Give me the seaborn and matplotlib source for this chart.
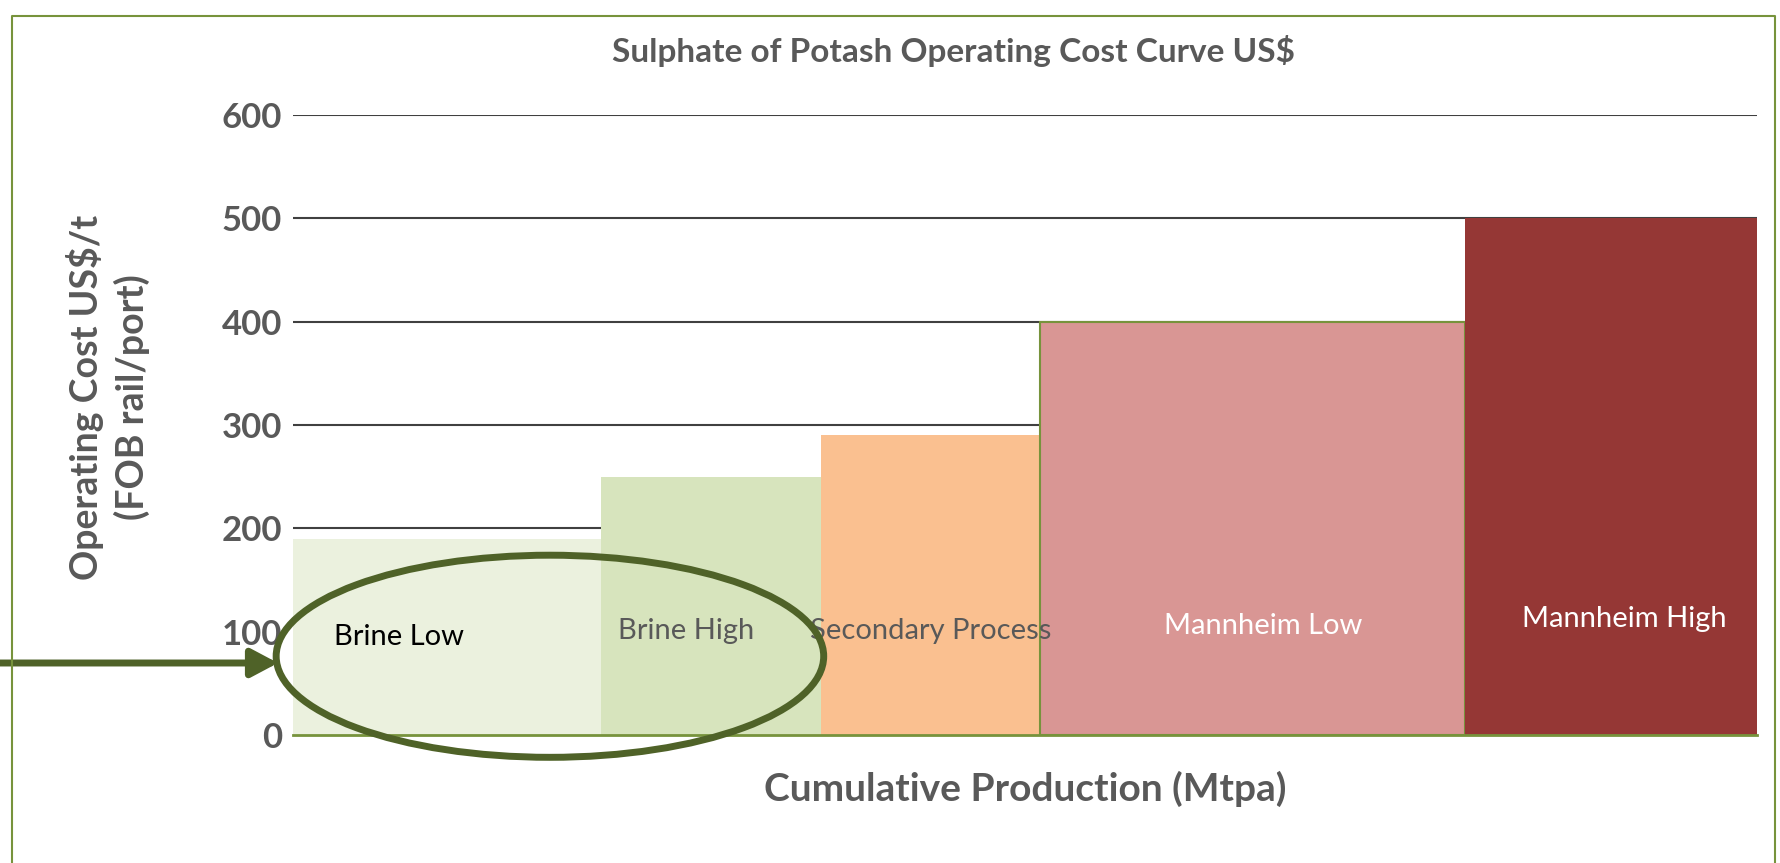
import numpy as np
import pandas as pd
import matplotlib.pyplot as plt
import seaborn as sns
from matplotlib.patches import Ellipse
from matplotlib.lines import Line2D

# Data
sources = ['Brine Low', 'Brine High', 'Secondary Process', 'Mannheim Low', 'Mannheim High']
production = [1.4, 1.0, 1.0, 1.93, 1.33]      # Mtpa, bar widths
op_cost = [190, 250, 290, 400, 500]            # US$/t
bar_colors = ['#EBF1DE', '#D7E4BD', '#FAC090', '#D99694', '#953735']
label_colors = ['#000000', '#595959', '#595959', '#FFFFFF', '#FFFFFF']
y_ticks = [0, 100, 200, 300, 400, 500, 600]

GREY = '#595959'
GREEN = '#77933C'
DARK_GREEN = '#4F6228'

edges = np.concatenate([[0], np.cumsum(production)])
mids = (edges[:-1] + edges[1:]) / 2
df = pd.DataFrame({'source': sources, 'cost': op_cost})

sns.set_theme(style='white')
plt.rcParams['font.family'] = ['Lato', 'DejaVu Sans']

fig = plt.figure(figsize=(17.81, 8.63), dpi=100)
ax = fig.add_axes([293 / 1781, 1 - 735 / 863, 1464 / 1781, 620 / 863])

sns.barplot(data=df, x='source', y='cost', hue='source', order=sources,
            hue_order=sources, palette=dict(zip(sources, bar_colors)),
            width=1, linewidth=0, saturation=1, legend=False, ax=ax, zorder=2)

# cost curve: stretch each bar to its cumulative production span
for i, cont in enumerate(ax.containers):
    for bar in cont:
        bar.set_x(edges[i])
        bar.set_width(production[i])
        if sources[i] == 'Mannheim Low':
            bar.set_edgecolor(GREEN)
            bar.set_linewidth(1.5)

ax.set_xlim(edges[0], edges[-1])
ax.set_ylim(0, 600)
ax.set_yticks(y_ticks)
ax.yaxis.grid(True, color='#404040', linewidth=1.5, zorder=0)
ax.set_axisbelow(True)
ax.set_xticks([])
ax.tick_params(axis='y', length=0, pad=8, labelsize=25, labelcolor=GREY)
for t in ax.get_yticklabels():
    t.set_fontweight('bold')
for s in ['left', 'right', 'top']:
    ax.spines[s].set_visible(False)
ax.spines['bottom'].set_color(GREEN)
ax.spines['bottom'].set_linewidth(2)
ax.spines['bottom'].set_zorder(3)

ax.set_xlabel('Cumulative Production (Mtpa)', fontsize=28, fontweight='bold',
              color=GREY, labelpad=26)
ax.set_ylabel('')
fig.text(108 / 1781, 1 - 397 / 863, 'Operating Cost US$/t\n(FOB rail/port)',
         rotation=90, ha='center', va='center', fontsize=27, fontweight='bold',
         color=GREY, linespacing=1.35)

label_dx = [-0.22, -0.11, 0.0, 0.05, 0.06]
label_y = [95, 101, 101, 105, 112]
for m, name, c, dx, ly in zip(mids, sources, label_colors, label_dx, label_y):
    ax.text(m + dx, ly, name, ha='center', va='center', fontsize=21, color=c, zorder=4)

fig.text(954 / 1781, 1 - 51 / 863, 'Sulphate of Potash Operating Cost Curve US$',
         ha='center', va='center', fontsize=24, fontweight='bold', color=GREY)

# Highlight ellipse and arrow
ax.add_patch(Ellipse((0.1755, 0.127), 0.374, 0.326, transform=ax.transAxes,
                     fill=False, edgecolor=DARK_GREEN, linewidth=5, clip_on=False, zorder=5))
ax.annotate('', xy=(278 / 1781, 1 - 663 / 863), xycoords='figure fraction',
            xytext=(0, 1 - 663 / 863), textcoords='figure fraction',
            arrowprops=dict(arrowstyle='-|>,head_length=1.6,head_width=0.85',
                            mutation_scale=10, color=DARK_GREEN, lw=5,
                            shrinkA=0, shrinkB=0))

# Outer frame (left, top, right)
fx0, fx1, fy1 = 12 / 1781, 1775 / 1781, 1 - 16 / 863
fig.lines.append(Line2D([fx0, fx0, fx1, fx1], [0, fy1, fy1, 0], transform=fig.transFigure,
                        color=GREEN, linewidth=1.5))

fig.savefig('out.png', dpi=100)
